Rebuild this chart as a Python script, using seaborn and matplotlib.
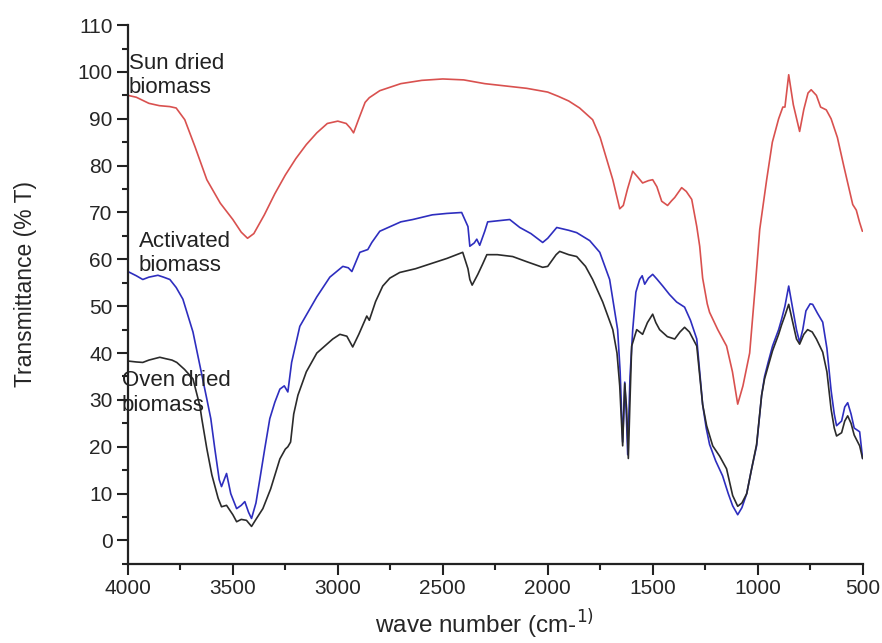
import numpy as np
import pandas as pd
import matplotlib
matplotlib.use("Agg")
import matplotlib.pyplot as plt
from matplotlib.ticker import MultipleLocator
import seaborn as sns

# Sun dried biomass (red)
sun_wn = [4000, 3960, 3900, 3850, 3800, 3770, 3729, 3680, 3624, 3560, 3500, 3460, 3430,
          3400, 3350, 3300, 3250, 3200, 3150, 3100, 3050, 3000, 2960, 2940, 2925, 2900,
          2870, 2850, 2800, 2700, 2600, 2500, 2400, 2300, 2200, 2100, 2000, 1950, 1900,
          1848, 1786, 1750, 1720, 1690, 1657, 1640, 1620, 1595, 1570, 1548, 1520, 1500,
          1480, 1457, 1429, 1410, 1395, 1362, 1340, 1314, 1290, 1276, 1262, 1240, 1229,
          1190, 1148, 1120, 1095, 1070, 1038, 1010, 990, 957, 930, 900, 880, 870, 852,
          830, 800, 780, 760, 745, 720, 700, 673, 650, 620, 590, 547, 530, 515, 501]
sun_T = [95, 94.6, 93.3, 92.8, 92.6, 92.3, 89.8, 84, 77, 72, 68.5, 65.8, 64.5,
         65.5, 69.5, 74, 78, 81.5, 84.5, 87, 89, 89.5, 89, 88, 87, 90,
         93.5, 94.5, 96, 97.5, 98.2, 98.5, 98.3, 97.5, 97, 96.5, 95.7, 94.8, 93.8,
         92.3, 89.8, 86, 81.5, 77, 70.8, 71.5, 75, 78.8, 77.5, 76.3, 76.8, 77,
         75.5, 72.4, 71.5, 72.5, 73.2, 75.3, 74.5, 72.8, 67, 62.8, 56, 50.5, 48.7,
         45, 41.5, 36, 29.1, 33, 40, 55, 66.4, 77, 85, 90, 92.5, 92.5, 99.4,
         93, 87.3, 92, 95.5, 96.2, 95, 92.5, 91.9, 90, 86, 80, 71.7, 70.5, 68, 66]

# Activated biomass (blue)
act_wn = [4000, 3960, 3929, 3900, 3857, 3830, 3800, 3770, 3738, 3690, 3660, 3624, 3605,
          3586, 3565, 3554, 3530, 3510, 3482, 3460, 3443, 3425, 3411, 3390, 3371, 3348,
          3324, 3300, 3276, 3255, 3238, 3220, 3181, 3100, 3038, 2976, 2950, 2933, 2895,
          2857, 2838, 2800, 2700, 2643, 2550, 2481, 2410, 2380, 2371, 2350, 2338, 2324,
          2300, 2286, 2181, 2133, 2080, 2024, 2000, 1957, 1900, 1862, 1800, 1752, 1705,
          1667, 1655, 1643, 1633, 1625, 1619, 1608, 1595, 1580, 1562, 1550, 1538, 1520,
          1500, 1480, 1452, 1420, 1386, 1348, 1320, 1290, 1276, 1262, 1245, 1229, 1200,
          1167, 1140, 1119, 1095, 1075, 1052, 1030, 1005, 981, 967, 950, 929, 900, 886,
          870, 852, 835, 815, 800, 785, 770, 750, 738, 715, 690, 670, 650, 635, 624,
          600, 585, 571, 555, 540, 514, 500]
act_T = [57.4, 56.5, 55.7, 56.2, 56.6, 56.2, 55.7, 54, 51.5, 44.5, 38, 30.2, 26,
         19.6, 13, 11.5, 14.3, 10, 6.8, 7.5, 8.3, 6, 4.7, 8, 13.2, 19.6,
         26, 29.5, 32.3, 33, 31.7, 38, 45.7, 52, 56.2, 58.5, 58.2, 57.4, 61.5,
         62.1, 63.6, 66, 68, 68.5, 69.5, 69.8, 70, 67, 62.8, 63.5, 64.3, 63,
         66, 68, 68.5, 66.8, 65.5, 63.6, 64.5, 66.8, 66.2, 65.7, 64, 61.5, 55.7,
         45, 36, 21, 33.8, 26, 18.3, 35, 45, 53, 55.7, 56.5, 54.7, 56,
         56.8, 55.8, 54.3, 52.5, 50.9, 49.8, 47, 43, 36, 29, 24, 20.5, 17,
         13.8, 10, 7.4, 5.5, 7, 10, 15, 20.2, 31, 35, 38, 41.5, 45, 47.2,
         50, 54.3, 50, 45, 42.3, 45, 49, 50.5, 50.4, 48.5, 46.6, 41, 32, 27, 24.5,
         25.5, 28.5, 29.4, 27, 24, 23.2, 17.5]

# Oven dried biomass (black)
oven_wn = [4000, 3960, 3929, 3900, 3848, 3820, 3790, 3767, 3730, 3690, 3657, 3648, 3624,
           3600, 3570, 3554, 3530, 3500, 3482, 3460, 3435, 3411, 3390, 3357, 3320, 3276,
           3250, 3238, 3225, 3210, 3190, 3150, 3100, 3024, 2990, 2957, 2929, 2900, 2862,
           2850, 2820, 2786, 2752, 2705, 2630, 2562, 2480, 2405, 2380, 2371, 2360, 2333,
           2310, 2290, 2240, 2167, 2100, 2024, 2000, 1960, 1943, 1900, 1862, 1820, 1786,
           1738, 1690, 1670, 1657, 1643, 1633, 1624, 1616, 1608, 1600, 1576, 1548, 1525,
           1500, 1485, 1467, 1430, 1395, 1370, 1348, 1325, 1290, 1262, 1243, 1214, 1181,
           1148, 1119, 1095, 1075, 1052, 1030, 1005, 981, 967, 929, 900, 886, 870, 852,
           835, 815, 800, 780, 762, 740, 720, 690, 670, 650, 635, 624, 600, 585, 571,
           555, 540, 514, 500]
oven_T = [38.3, 38.1, 38, 38.5, 39.1, 38.8, 38.5, 38, 36.5, 34.5, 28.7, 26, 19.6,
          14, 9, 7.2, 7.5, 5.5, 4, 4.5, 4.3, 3, 4.5, 6.8, 11, 17.4,
          19.5, 20, 21, 27, 31, 36, 40, 43, 44, 43.6, 41.3, 44, 47.9,
          47, 51, 54.3, 56, 57.2, 58, 59, 60.2, 61.5, 58, 55.7, 54.5, 56.8,
          59, 61, 61, 60.6, 59.5, 58.3, 58.5, 61, 61.7, 61, 60.6, 58.5, 55.7,
          50.9, 45, 40, 33, 20.2, 33.5, 28, 17.5, 30, 41.5, 45, 44, 46.5,
          48.3, 46.5, 45, 43.5, 43, 44.5, 45.5, 44.5, 41.5, 29, 24.5, 20.2, 18,
          15.3, 9.6, 7.3, 8, 10, 15, 20.5, 31, 34.5, 40.5, 44, 46, 48, 50.4,
          47, 43, 41.9, 44, 45, 44.5, 43, 40.2, 36, 28, 24, 22.3, 23, 25.5, 26.6,
          25, 22.5, 20.2, 17.5]

series = ["Sun dried", "Activated", "Oven dried"]
colors = ["#d9514f", "#2e2ebf", "#2b2b2b"]

df = pd.concat([
    pd.DataFrame({"wn": sun_wn, "T": sun_T, "sample": series[0]}),
    pd.DataFrame({"wn": act_wn, "T": act_T, "sample": series[1]}),
    pd.DataFrame({"wn": oven_wn, "T": oven_T, "sample": series[2]}),
])

sns.set_style("ticks")
plt.rcParams['font.family'] = ['Liberation Sans', 'DejaVu Sans']

fig = plt.figure(figsize=(8.82, 6.43), dpi=100)
ax = fig.add_axes([0.145, 0.123, 0.833, 0.838])

sns.lineplot(data=df, x="wn", y="T", hue="sample", palette=dict(zip(series, colors)),
             estimator=None, sort=False, linewidth=1.2, legend=False, ax=ax)

ax.set_xlim(4000, 500)
ax.set_ylim(-5, 110)
ax.xaxis.set_major_locator(MultipleLocator(500))
ax.xaxis.set_minor_locator(MultipleLocator(250))
ax.yaxis.set_major_locator(MultipleLocator(10))
ax.yaxis.set_minor_locator(MultipleLocator(5))
ax.tick_params(which="major", length=8, width=1.5, labelsize=15, pad=3, color="#222222")
ax.tick_params(which="minor", length=4.5, width=1.5, color="#222222")
for s in ["left", "bottom"]:
    ax.spines[s].set_linewidth(1.6)
    ax.spines[s].set_color("#222222")
sns.despine(ax=ax)

ax.set_xlabel("wave number (cm-$^{1)}$", fontsize=17.5)
ax.set_ylabel("Transmittance (% T)", fontsize=16.5)
ax.xaxis.set_label_coords(0.486, -0.08)
ax.yaxis.set_label_coords(-0.124, 0.52)

# Sample labels
ax.text(3995, 104, "Sun dried\nbiomass", fontsize=16, va="top", ha="left", color="#222222")
ax.text(3948, 66, "Activated\nbiomass", fontsize=16, va="top", ha="left", color="#222222")
ax.text(4030, 36.3, "Oven dried\nbiomass", fontsize=16, va="top", ha="left", color="#222222")

fig.savefig("out.png", dpi=100)
